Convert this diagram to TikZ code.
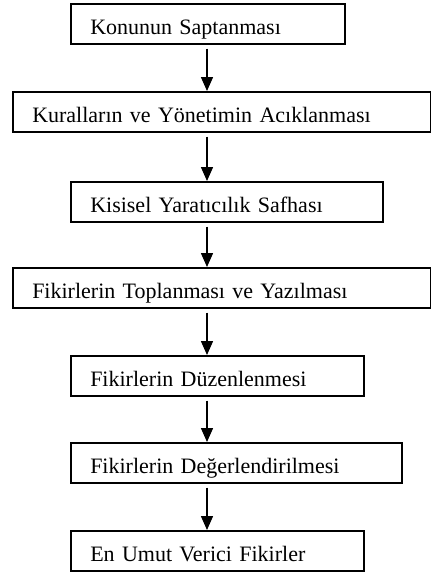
\documentclass[tikz,border=0pt]{standalone}
\usepackage{fontspec}
\setmainfont{Liberation Serif}
\usetikzlibrary{arrows.meta}

\begin{document}
\begin{tikzpicture}[x=1pt, y=-1pt, >={Triangle[width=12pt, length=14pt]}]
    \tikzset{
        stage/.style={draw, line width=1.5pt, anchor=north west, inner xsep=19.5pt,
            inner ysep=0pt, text height=31pt, text depth=9pt, align=left,
            font=\fontsize{22}{24}\selectfont},
        flow/.style={->, line width=1.5pt, shorten <=4pt}
    }
    \useasboundingbox (0,0) rectangle (431,573);

    % Stages
    \node[stage, text width=235pt] (konu)  at (70,3)   {Konunun Saptanması};
    \node[stage, text width=379pt] (kural) at (12,91)  {Kuralların ve Yönetimin Acıklanması};
    \node[stage, text width=273pt] (kisi)  at (70,181) {Kisisel Yaratıcılık Safhası};
    \node[stage, text width=379pt] (topla) at (12,267) {Fikirlerin Toplanması ve Yazılması};
    \node[stage, text width=254pt] (duzen) at (70,355) {Fikirlerin Düzenlenmesi};
    \node[stage, text width=292pt] (deger) at (70,442) {Fikirlerin Değerlendirilmesi};
    \node[stage, text width=254pt] (umut)  at (70,530) {En Umut Verici Fikirler};

    % Arrows down the middle
    \coordinate (ax) at (207,0);
    \draw[flow] (konu.south -| ax)  -- (kural.north -| ax);
    \draw[flow] (kural.south -| ax) -- (kisi.north -| ax);
    \draw[flow] (kisi.south -| ax)  -- (topla.north -| ax);
    \draw[flow] (topla.south -| ax) -- (duzen.north -| ax);
    \draw[flow] (duzen.south -| ax) -- (deger.north -| ax);
    \draw[flow] (deger.south -| ax) -- (umut.north -| ax);
\end{tikzpicture}
\end{document}
